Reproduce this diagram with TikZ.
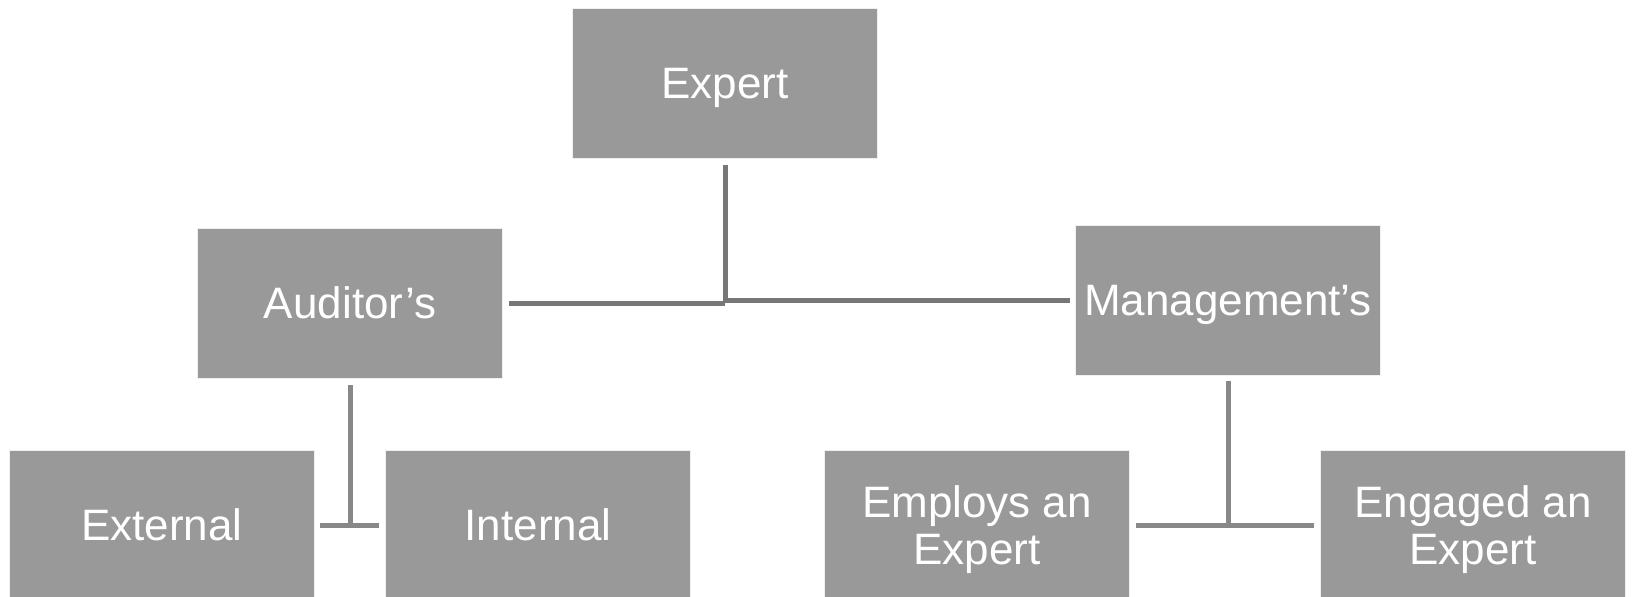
\documentclass[tikz,border=0pt]{standalone}
\usepackage{fontspec}
\setmainfont{Liberation Sans}
\usepackage{xcolor}
\usepackage{tikz}
\usetikzlibrary{positioning, calc}

\definecolor{boxgray}{HTML}{999999}
\definecolor{linegray}{HTML}{777777}
\definecolor{sublinegray}{HTML}{888888}

\begin{document}
\begin{tikzpicture}[
    x=1pt, y=-1pt,
    orgbox/.style={rectangle, fill=boxgray, draw=white!85!boxgray, line width=0.6pt, minimum width=305pt, minimum height=150pt, inner sep=0pt, text depth=0pt, text centered, align=center, text=white, font=\fontsize{44}{47}\selectfont},
    link/.style={draw=linegray, line width=5pt},
    sublink/.style={draw=sublinegray, line width=5pt}
]
    \useasboundingbox (0,0) rectangle (1634,597);

    \node[orgbox] (exp) at (725,83) {Expert};
    \node[orgbox] (aud) at (350,303) {Auditor’s};
    \node[orgbox] (mgmt) at (1228,300) {Management’s};
    \node[orgbox] (ext) at (162,525) {External};
    \node[orgbox] (int) at (538,525) {Internal};
    \node[orgbox] (emp) at (977,525) {Employs an\\Expert};
    \node[orgbox] (eng) at (1473,525) {Engaged an\\Expert};

    % top level
    \draw[link] ([yshift=-7pt]exp.south) -- (exp.south |- aud.east);
    \draw[link] ([xshift=6pt]aud.east) -- (exp.south |- aud.east);
    \draw[link] (exp.south |- mgmt.west) -- ([xshift=-5pt]mgmt.west);

    % auditor's side
    \draw[sublink] ([yshift=-7pt]aud.south) -- (aud.south |- ext.east);
    \draw[sublink] ([xshift=5pt]ext.east) -- ([xshift=-6pt]int.west);

    % management's side
    \draw[sublink] ([yshift=-6pt]mgmt.south) -- (mgmt.south |- emp.east);
    \draw[sublink] ([xshift=6pt]emp.east) -- ([xshift=-6pt]eng.west);
\end{tikzpicture}
\end{document}
